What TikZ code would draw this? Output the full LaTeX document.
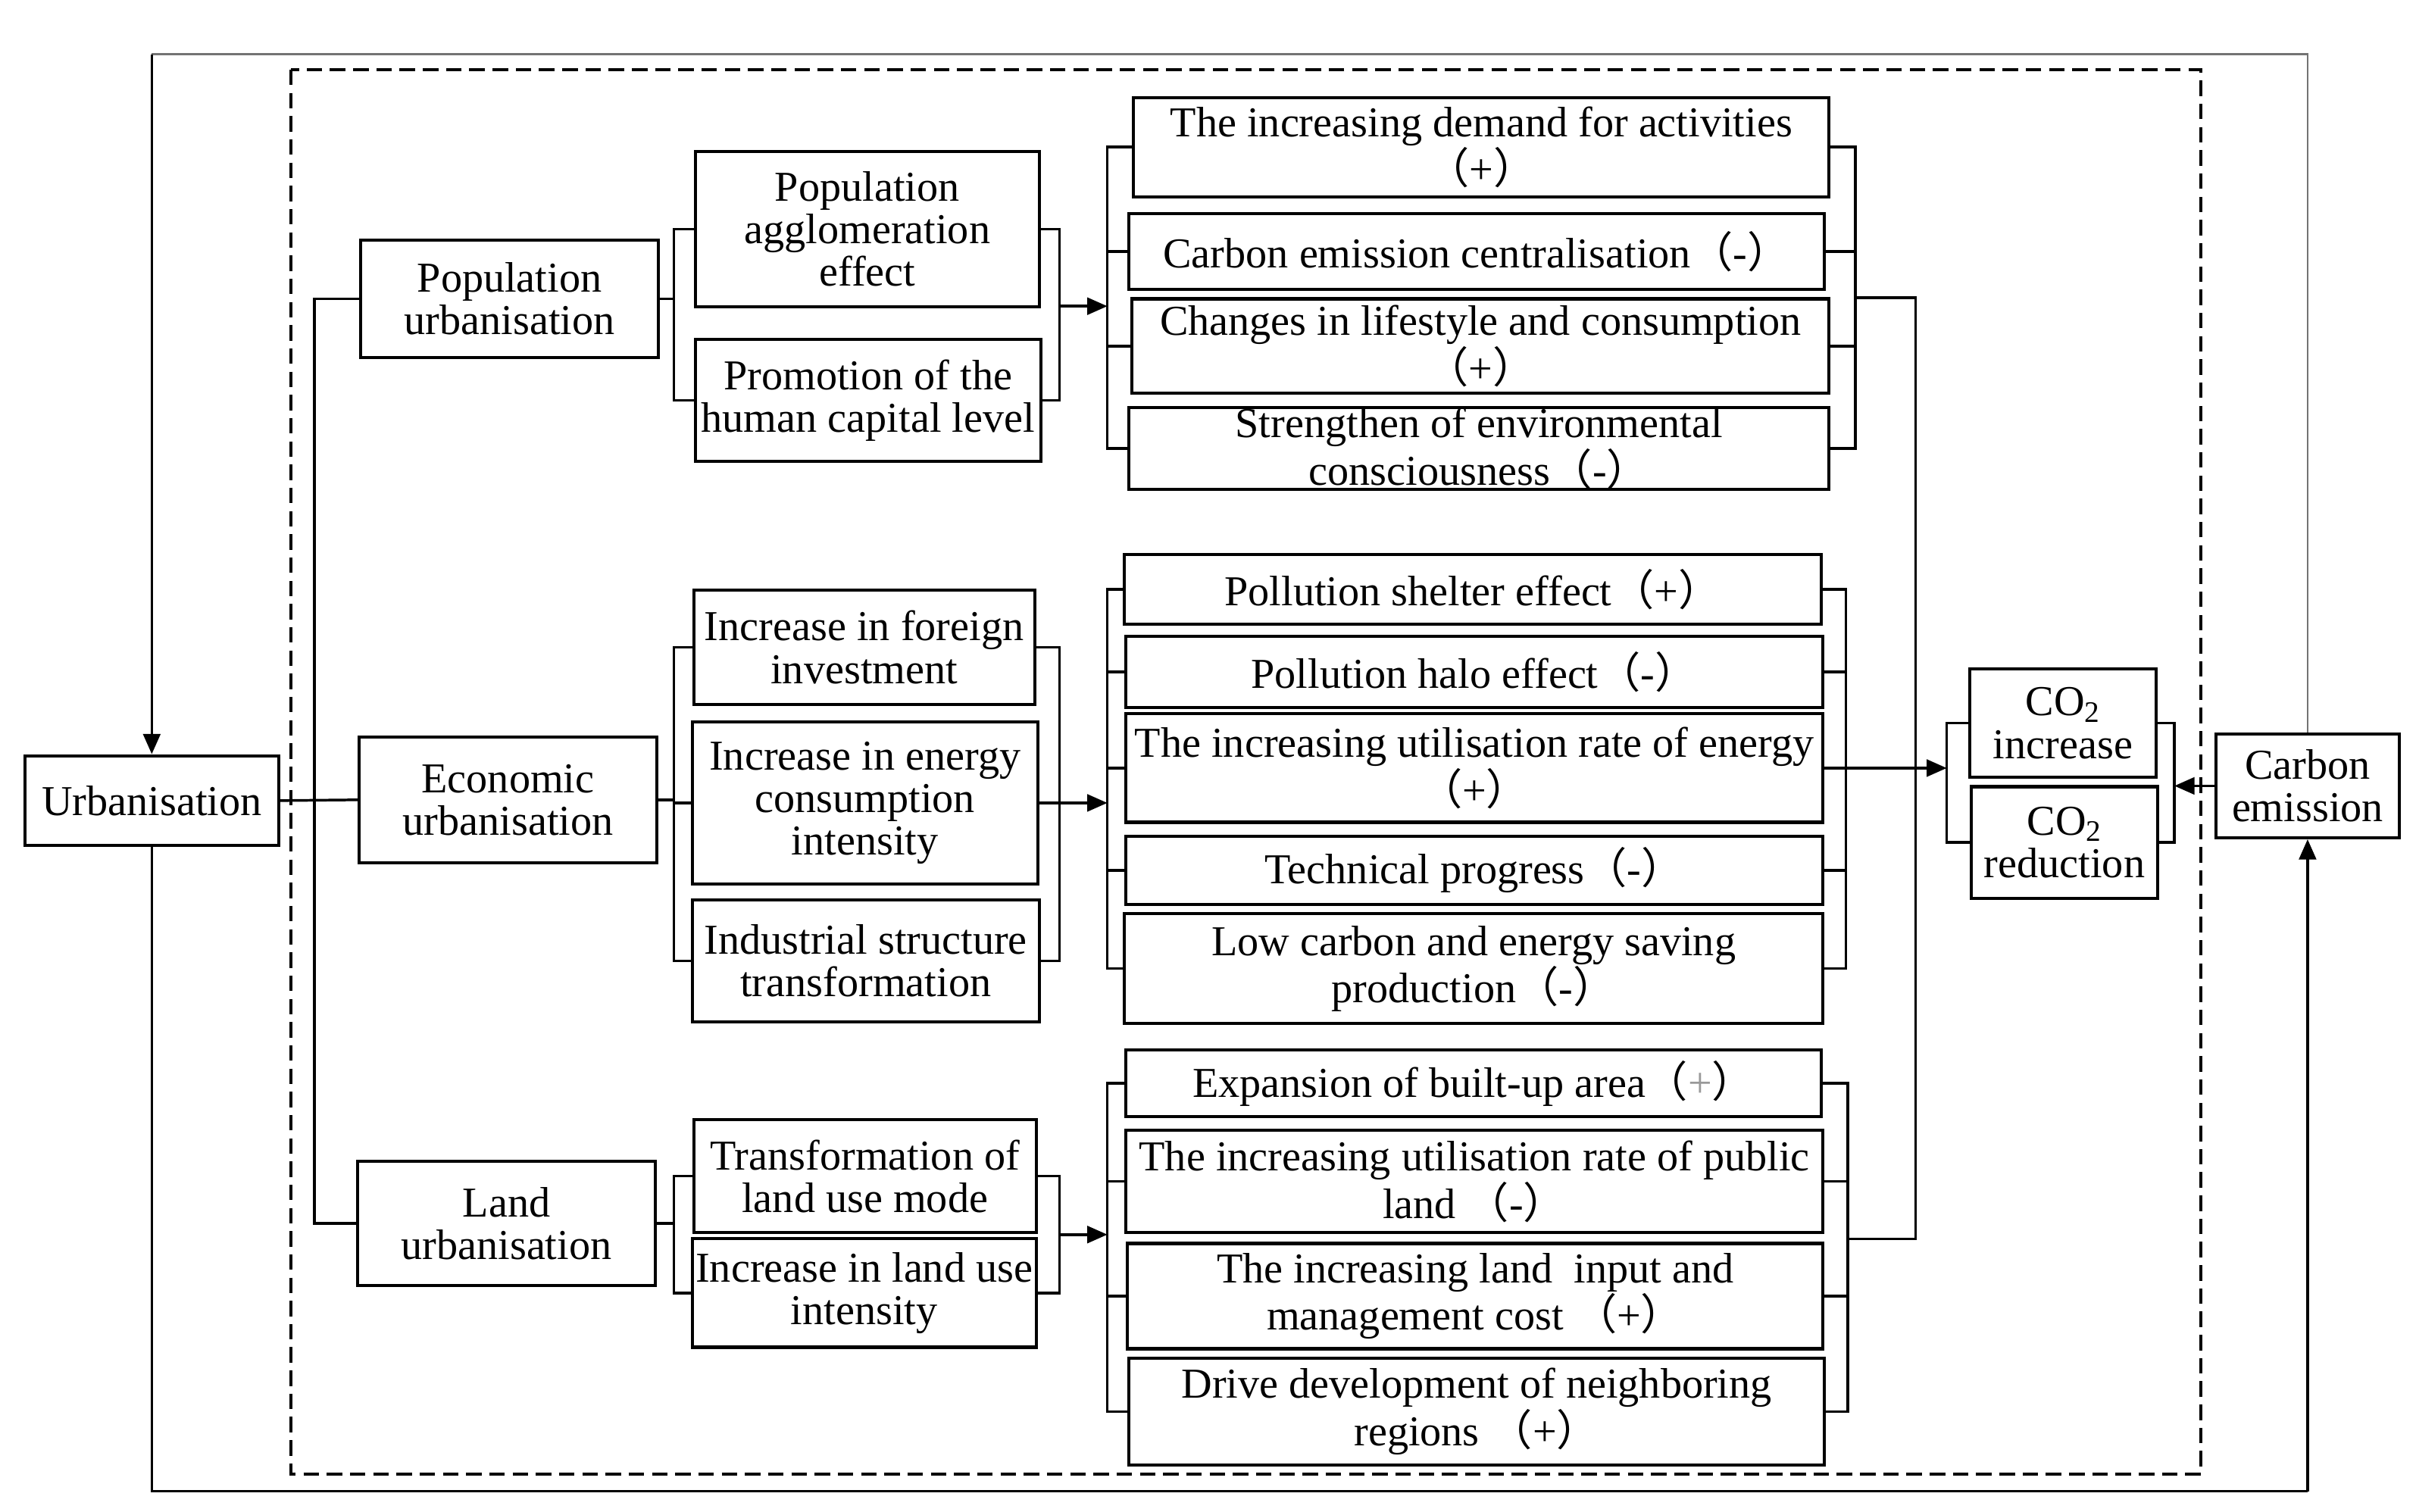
\documentclass[tikz,border=0pt]{standalone}
\usepackage{fontspec}
\setmainfont{Liberation Serif}
\newfontfamily\cjk{Noto Sans CJK SC}
\usetikzlibrary{arrows.meta,calc}
\newcommand\fwplus{{\cjk （}+{\cjk ）}}
\newcommand\fwminus{{\cjk （}-{\cjk ）}}
\newcommand\fwgplus{{\cjk （}\textcolor{black!40}{+}{\cjk ）}}
\begin{document}
\begin{tikzpicture}[x=1pt,y=-1pt,
  box/.style={draw, line width=2pt, inner xsep=1pt, inner ysep=0pt, align=center,
    font=\fontsize{27.5}{27.5}\selectfont},
  ln/.style={line width=1.7pt},
  arr/.style={ln, -{Triangle[length=13pt,width=11pt]}}]
\useasboundingbox (0,0) rectangle (1560,976);

% dashed frame
\draw[line width=2pt, dash pattern=on 10pt off 5pt] (188,45) rectangle (1421,952);

% main boxes
\node[box, minimum width=164pt, minimum height=58pt] (urb) at (98,517) {Urbanisation};
\node[box, minimum width=118pt, minimum height=67pt] (carb) at (1490,507.5) {Carbon\\emission};

% level 1
\node[box, minimum width=192pt, minimum height=76pt] (pu) at (329,193) {Population\\urbanisation};
\node[box, minimum width=192pt, minimum height=81pt] (eu) at (328,516.5) {Economic\\urbanisation};
\node[box, minimum width=192pt, minimum height=80pt] (lu) at (327,790) {Land\\urbanisation};

% level 2
\node[box, minimum width=222pt, minimum height=100pt] (pa) at (560,148) {Population\\agglomeration\\effect};
\node[box, minimum width=223pt, minimum height=79pt] (ph) at (560.5,258.5) {Promotion of the\\human capital level};
\node[box, minimum width=220pt, minimum height=74pt] (ef) at (558,418) {Increase in foreign\\investment};
\node[box, minimum width=223pt, minimum height=105pt] (ee) at (558.5,518.5) {Increase in energy\\consumption\\intensity};
\node[box, minimum width=224pt, minimum height=79pt] (ei) at (559,620.5) {Industrial structure\\transformation};
\node[box, minimum width=221pt, minimum height=73pt] (lt) at (558.5,759.5) {Transformation of\\land use mode};
\node[box, minimum width=222pt, minimum height=70pt] (li) at (558,835) {Increase in land use\\intensity};

% level 3 population
\node[box, minimum width=449pt, minimum height=64pt] (p1) at (956.5,95) {The increasing demand for activities\\\fwplus};
\node[box, minimum width=449pt, minimum height=49pt] (p2) at (953.5,162.5) {Carbon emission centralisation\fwminus};
\node[box, minimum width=450pt, minimum height=61pt] (p3) at (956,223.5) {Changes in lifestyle and consumption\\\fwplus};
\node[box, minimum width=452pt, minimum height=53pt] (p4) at (955,289.5) {Strengthen of environmental\\consciousness\fwminus};

% level 3 economic
\node[box, minimum width=450pt, minimum height=45pt] (e1) at (951,380.5) {Pollution shelter effect\fwplus};
\node[box, minimum width=450pt, minimum height=46pt] (e2) at (952,434) {Pollution halo effect\fwminus};
\node[box, minimum width=450pt, minimum height=70pt] (e3) at (952,496) {The increasing utilisation rate of energy\\\fwplus};
\node[box, minimum width=450pt, minimum height=44pt] (e4) at (952,562) {Technical progress\fwminus};
\node[box, minimum width=451pt, minimum height=71pt] (e5) at (951.5,625.5) {Low carbon and energy saving\\production\fwminus};

% level 3 land
\node[box, minimum width=449pt, minimum height=43pt] (l1) at (951.5,699.5) {Expansion of built-up area\fwgplus};
\node[box, minimum width=450pt, minimum height=66pt] (l2) at (952,763) {The increasing utilisation rate of public\\land \fwminus};
\node[box, minimum width=449pt, minimum height=68pt] (l3) at (952.5,837) {The increasing land\ \ input and\\management cost \fwplus};
\node[box, minimum width=449pt, minimum height=69pt] (l4) at (953.5,911.5) {Drive development of neighboring\\regions \fwplus};

% CO2 boxes
\node[box, minimum width=120pt, minimum height=70pt] (ci) at (1332,467) {CO\textsubscript{2}\\increase};
\node[box, minimum width=120pt, minimum height=72pt] (cr) at (1333,544) {CO\textsubscript{2}\\reduction};

% bracket x positions
\coordinate (v0) at (203,0);
\coordinate (b2l) at (435,0);
\coordinate (b2r) at (684,0);
\coordinate (b3l) at (715,0);
\coordinate (b3rP) at (1198,0);
\coordinate (b3rE) at (1192,0);
\coordinate (b3rL) at (1193,0);
\coordinate (vR) at (1237,0);
\coordinate (cbl) at (1257,0);
\coordinate (cbr) at (1404,0);
\coordinate (topy) at (0,35);
\coordinate (boty) at (0,963);

% urbanisation to level 1
\draw[ln] (urb.east) -- (eu.west);
\draw[ln] (pu.west) -- (pu.west -| v0) -- (lu.west -| v0) -- (lu.west);

% population group
\draw[ln] (pu.east) -- (pu.east -| b2l);
\draw[ln] (pa.west) -- (pa.west -| b2l) -- (ph.west -| b2l) -- (ph.west);
\draw[ln] (pa.east) -- (pa.east -| b2r) -- (ph.east -| b2r) -- (ph.east);
\coordinate (mP2) at ($(pa.east -| b2r)!0.45!(ph.east -| b2r)$);
\draw[arr] (mP2) -- (mP2 -| b3l);
\draw[ln] (p1.west) -- (p1.west -| b3l) -- (p4.west -| b3l) -- (p4.west);
\draw[ln] (p2.west) -- (p2.west -| b3l);
\draw[ln] (p3.west) -- (p3.west -| b3l);
\draw[ln] (p1.east) -- (p1.east -| b3rP) -- (p4.east -| b3rP) -- (p4.east);
\draw[ln] (p2.east) -- (p2.east -| b3rP);
\draw[ln] (p3.east) -- (p3.east -| b3rP);
\coordinate (mP3) at ($(p1.east -| b3rP)!0.5!(p4.east -| b3rP)$);

% economic group
\draw[ln] (eu.east) -- (eu.east -| b2l);
\draw[ln] (ef.west) -- (ef.west -| b2l) -- (ei.west -| b2l) -- (ei.west);
\draw[ln] (ee.west) -- (ee.west -| b2l);
\draw[ln] (ef.east) -- (ef.east -| b2r) -- (ei.east -| b2r) -- (ei.east);
\draw[arr] (ee.east) -- (ee.east -| b3l);
\draw[ln] (e1.west) -- (e1.west -| b3l) -- (e5.west -| b3l) -- (e5.west);
\draw[ln] (e2.west) -- (e2.west -| b3l);
\draw[ln] (e3.west) -- (e3.west -| b3l);
\draw[ln] (e4.west) -- (e4.west -| b3l);
\draw[ln] (e1.east) -- (e1.east -| b3rE) -- (e5.east -| b3rE) -- (e5.east);
\draw[ln] (e2.east) -- (e2.east -| b3rE);
\draw[ln] (e4.east) -- (e4.east -| b3rE);
\draw[arr] (e3.east) -- (e3.east -| cbl);

% land group
\draw[ln] (lu.east) -- (lu.east -| b2l);
\draw[ln] (lt.west) -- (lt.west -| b2l) -- (li.west -| b2l) -- (li.west);
\draw[ln] (lt.east) -- (lt.east -| b2r) -- (li.east -| b2r) -- (li.east);
\coordinate (mL2) at ($(lt.east -| b2r)!0.5!(li.east -| b2r)$);
\draw[arr] (mL2) -- (mL2 -| b3l);
\draw[ln] (l1.west) -- (l1.west -| b3l) -- (l4.west -| b3l) -- (l4.west);
\draw[ln] (l2.west) -- (l2.west -| b3l);
\draw[ln] (l3.west) -- (l3.west -| b3l);
\draw[ln] (l1.east) -- (l1.east -| b3rL) -- (l4.east -| b3rL) -- (l4.east);
\draw[ln] (l2.east) -- (l2.east -| b3rL);
\draw[ln] (l3.east) -- (l3.east -| b3rL);
\coordinate (mL3) at ($(l2.east -| b3rL)!0.5!(l3.east -| b3rL)$);

% long right vertical
\draw[ln] (mP3) -- (mP3 -| vR) -- (mL3 -| vR) -- (mL3);

% CO2 brackets
\draw[ln] (ci.west) -- (ci.west -| cbl) -- (cr.west -| cbl) -- (cr.west);
\draw[ln] (ci.east) -- (ci.east -| cbr) -- (cr.east -| cbr) -- (cr.east);
\draw[arr] (carb.west) -- (carb.west -| cbr);

% outer loop
\draw[line width=1.3pt, black!55] (carb.north) -- (carb.north |- topy) -- (urb.north |- topy);
\draw[arr] (urb.north |- topy) -- (urb.north);
\draw[ln] (urb.south) -- (urb.south |- boty) -- (carb.south |- boty);
\draw[arr] (carb.south |- boty) -- (carb.south);
\end{tikzpicture}
\end{document}
